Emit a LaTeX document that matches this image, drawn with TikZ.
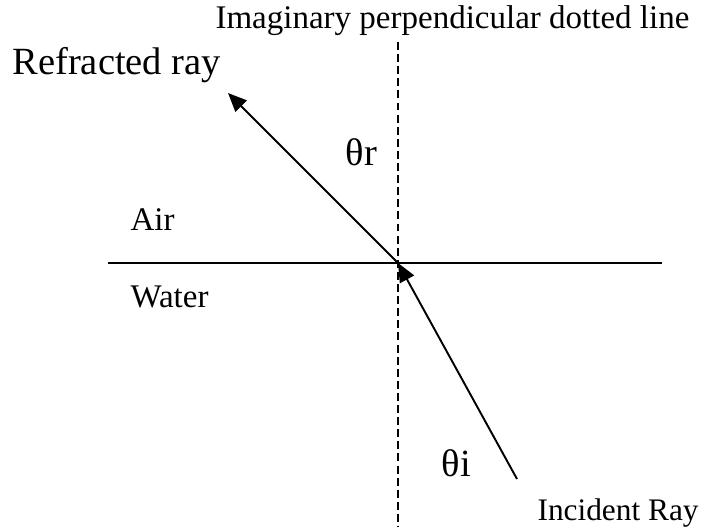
\documentclass[tikz,border=0pt]{standalone}
\usepackage{fontspec}
\setmainfont{Liberation Serif}
\usetikzlibrary{arrows.meta}

\begin{document}
\begin{tikzpicture}[x=0.3636pt, y=-0.3636pt,
    lbl/.style={anchor=base west, inner sep=0pt},
    ray/.style={line width=0.7pt, -{Triangle[length=6.8pt, width=5.8pt]}}]
    \useasboundingbox (0,0) rectangle (701,527);

    \coordinate (O) at (398,263);
    \coordinate (topdash) at (398,42);
    \coordinate (botdash) at (398,527);
    \coordinate (left) at (108,263);
    \coordinate (right) at (662,263);
    \coordinate (reftip) at (228,93);
    \coordinate (incstart) at (517,479);

    % surface and normal
    \draw[line width=0.7pt] (left) -- (right);
    \draw[line width=0.6pt, dash pattern=on 2.9pt off 1.5pt] (topdash) -- (botdash);

    % rays
    \draw[ray] (O) -- (reftip);
    \draw[ray] (incstart) -- (O);

    % labels
    \node[lbl, font=\fontsize{12}{14}\selectfont] (normal) at (215,29) {Imaginary perpendicular dotted line};
    \node[lbl, font=\fontsize{14}{17}\selectfont] (refracted) at (12,75) {Refracted ray};
    \node[lbl, font=\fontsize{14}{17}\selectfont] (thetar) at (345,166) {θr};
    \node[lbl, font=\fontsize{12}{14}\selectfont] (air) at (130,231) {Air};
    \node[lbl, font=\fontsize{12}{14}\selectfont] (water) at (130,307) {Water};
    \node[lbl, font=\fontsize{14}{17}\selectfont] (thetai) at (441,476) {θi};
    \node[lbl, font=\fontsize{11.4}{13}\selectfont] (incident) at (537,520) {Incident Ray};
\end{tikzpicture}
\end{document}
